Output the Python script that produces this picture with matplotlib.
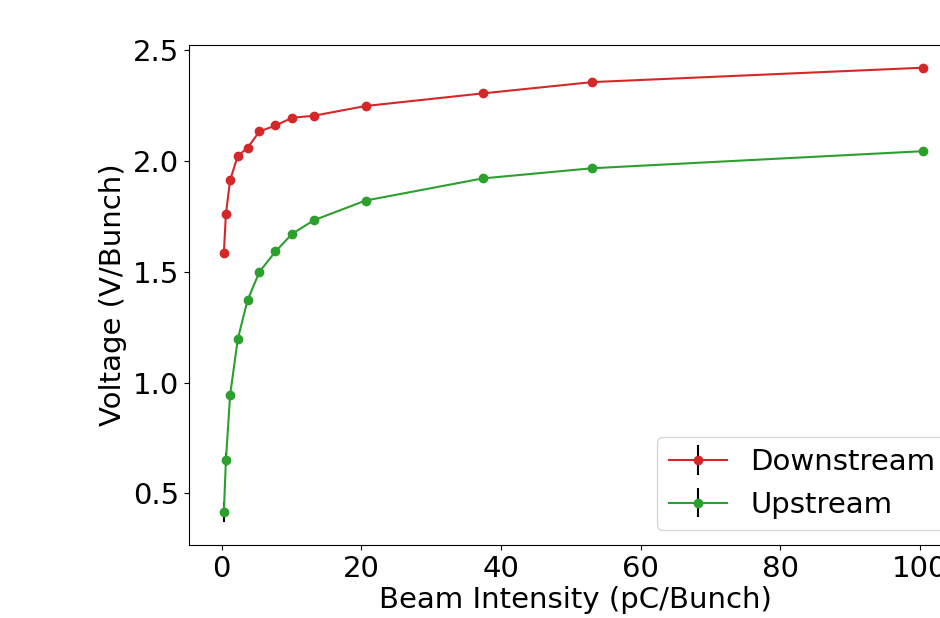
import numpy as np
import matplotlib
matplotlib.use("Agg")
import matplotlib.pyplot as plt

# beam intensity (pC/Bunch)
intensity = [0.3, 0.6, 1.2, 2.3, 3.7, 5.4, 7.7, 10.1, 13.2, 20.6, 37.4, 53.1, 100.5]

downstream = [1.584, 1.762, 1.914, 2.024, 2.060, 2.134, 2.161, 2.196, 2.205, 2.249, 2.306, 2.357, 2.422]
downstream_err = [0.01, 0.01, 0.01, 0.01, 0.01, 0.01, 0.01, 0.01, 0.01, 0.01, 0.01, 0.01, 0.01]

upstream = [0.414, 0.651, 0.944, 1.197, 1.372, 1.500, 1.592, 1.672, 1.733, 1.822, 1.922, 1.968, 2.045]
upstream_err = [0.045, 0.03, 0.012, 0.01, 0.01, 0.01, 0.01, 0.01, 0.01, 0.01, 0.01, 0.01, 0.01]

fontsize = 21

fig = plt.figure(figsize=(9.4, 6.18), dpi=100)
ax = fig.add_axes([0.201, 0.118, 0.822, 0.809])

ax.errorbar(intensity, downstream, yerr=downstream_err, fmt="o-", color="tab:red",
            ecolor="black", markersize=6, linewidth=1.5, label="Downstream")
ax.errorbar(intensity, upstream, yerr=upstream_err, fmt="o-", color="tab:green",
            ecolor="black", markersize=6, linewidth=1.5, label="Upstream")

ax.set_xlim(-4.7, 106)
ax.set_ylim(0.266, 2.524)
ax.set_xticks([0, 20, 40, 60, 80, 100])
ax.set_yticks([0.5, 1.0, 1.5, 2.0, 2.5])
ax.tick_params(labelsize=fontsize)
ax.set_xlabel("Beam Intensity (pC/Bunch)", fontsize=fontsize, labelpad=2)
ax.set_ylabel("Voltage (V/Bunch)", fontsize=fontsize)
ax.legend(loc="lower right", fontsize=fontsize)

fig.savefig("out.png", dpi=100)
